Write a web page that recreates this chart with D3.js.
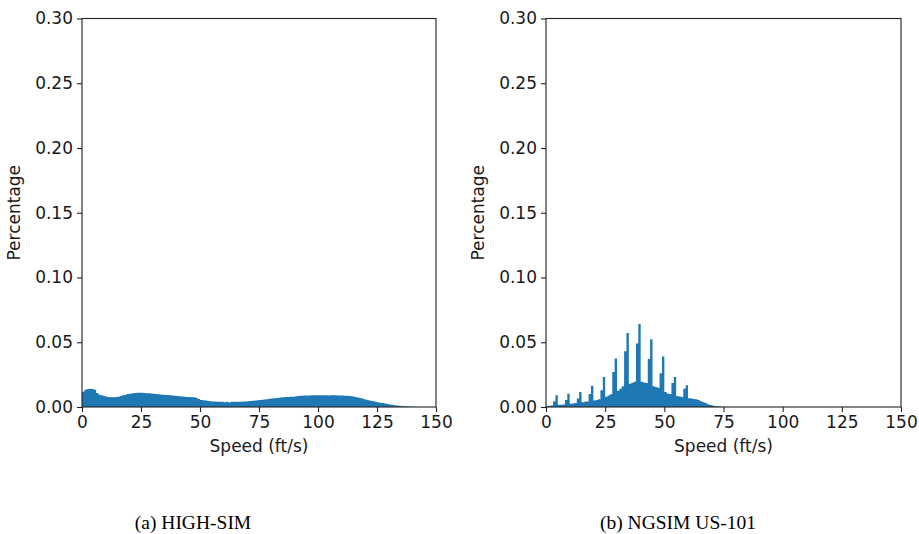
<!DOCTYPE html>
<html>
<head>
<meta charset="utf-8">
<script src="https://cdn.jsdelivr.net/npm/d3@7"></script>
<style>
  body { margin: 0; background: #fff; }
  svg { display: block; }
  .tick text { font-family: "DejaVu Sans", sans-serif; font-size: 17px; fill: #1a1a1a; }
</style>
</head>
<body>
<svg id="chart" width="919" height="534"></svg>
<script>
// ---- Data (1 ft/s bins starting at 0) ----
const highSimValues = [
  0.0118,0.0134,0.0139,0.0140,0.0139,0.0134,0.0108,0.0095,0.0090,0.0085,
  0.0080,0.0077,0.0075,0.0075,0.0077,0.0080,0.0085,0.0090,0.0095,0.0100,
  0.0103,0.0106,0.0108,0.0110,0.0110,0.0110,0.0108,0.0107,0.0106,0.0104,
  0.0103,0.0100,0.0098,0.0097,0.0095,0.0093,0.0092,0.0090,0.0088,0.0087,
  0.0085,0.0083,0.0082,0.0080,0.0078,0.0077,0.0076,0.0075,0.0072,0.0062,
  0.0055,0.0052,0.0050,0.0047,0.0045,0.0043,0.0042,0.0040,0.0040,0.0040,
  0.0036,0.0040,0.0035,0.0040,0.0040,0.0040,0.0040,0.0041,0.0042,0.0043,
  0.0045,0.0046,0.0048,0.0050,0.0052,0.0054,0.0056,0.0058,0.0060,0.0063,
  0.0066,0.0068,0.0070,0.0072,0.0073,0.0075,0.0077,0.0078,0.0079,0.0080,
  0.0082,0.0084,0.0086,0.0087,0.0088,0.0088,0.0089,0.0090,0.0090,0.0090,
  0.0091,0.0091,0.0090,0.0090,0.0089,0.0090,0.0091,0.0090,0.0089,0.0088,
  0.0088,0.0087,0.0086,0.0085,0.0083,0.0080,0.0076,0.0072,0.0068,0.0062,
  0.0056,0.0052,0.0048,0.0044,0.0040,0.0036,0.0033,0.0030,0.0027,0.0023,
  0.0020,0.0017,0.0014,0.0012,0.0010,0.0008,0.0006,0.0005,0.0004,0.0003,
  0.0001
];
const ngsimValues = [
  0.0008,0.0009,0.0012,0.0045,0.0090,0.0018,0.0018,0.0020,0.0055,0.0103,
  0.0025,0.0027,0.0030,0.0065,0.0116,0.0037,0.0040,0.0042,0.0100,0.0165,
  0.0050,0.0055,0.0060,0.0130,0.0232,0.0080,0.0088,0.0098,0.0270,0.0374,
  0.0125,0.0140,0.0160,0.0430,0.0572,0.0180,0.0188,0.0195,0.0490,0.0640,
  0.0195,0.0190,0.0185,0.0370,0.0524,0.0160,0.0155,0.0148,0.0260,0.0390,
  0.0115,0.0105,0.0100,0.0186,0.0232,0.0085,0.0082,0.0078,0.0140,0.0168,
  0.0068,0.0065,0.0062,0.0060,0.0055,0.0045,0.0038,0.0030,0.0022,0.0016,
  0.0012,0.0008,0.0005,0.0003,0.0001
];
const binWidth = 1;
const xTicks = [0, 25, 50, 75, 100, 125, 150];
const yTicks = [0.00, 0.05, 0.10, 0.15, 0.20, 0.25, 0.30];
const xLabel = "Speed (ft/s)";
const yLabel = "Percentage";
const captions = ["(a) HIGH-SIM", "(b) NGSIM US-101"];

const panels = [
  { values: highSimValues, left: 82, right: 436, caption: captions[0], capX: 193 },
  { values: ngsimValues, left: 546, right: 901, caption: captions[1], capX: 678 }
];
const plotTop = 18.5, plotBottom = 407;
const color = "#1f77b4";
const svg = d3.select("#chart");

panels.forEach(p => {
  const x = d3.scaleLinear().domain([0, 150]).range([p.left, p.right]);
  const y = d3.scaleLinear().domain([0, 0.30]).range([plotBottom, plotTop]);
  const g = svg.append("g");

  const pts = p.values.map((v, i) => ({ x0: i * binWidth, v }));
  pts.push({ x0: p.values.length * binWidth, v: 0 });
  const area = d3.area()
    .x(d => x(d.x0))
    .y0(y(0))
    .y1(d => y(d.v))
    .curve(d3.curveStepAfter);
  g.append("path").datum(pts).attr("d", area).attr("fill", color);

  const xAxis = d3.axisBottom(x).tickValues(xTicks).tickSize(5).tickPadding(4).tickFormat(d3.format("d"));
  const yAxis = d3.axisLeft(y).tickValues(yTicks).tickSize(5).tickPadding(4).tickFormat(d3.format(".2f"));
  const gx = g.append("g").attr("transform", `translate(0,${plotBottom})`).call(xAxis);
  const gy = g.append("g").attr("transform", `translate(${p.left},0)`).call(yAxis);
  [gx, gy].forEach(a => {
    a.select(".domain").remove();
    a.selectAll(".tick line").attr("stroke", "#222").attr("stroke-width", 1.1);
  });

  g.append("rect")
    .attr("x", p.left).attr("y", plotTop)
    .attr("width", p.right - p.left).attr("height", plotBottom - plotTop)
    .attr("fill", "none").attr("stroke", "#222").attr("stroke-width", 1.1);

  g.append("text")
    .attr("x", (p.left + p.right) / 2).attr("y", 452)
    .attr("text-anchor", "middle")
    .style("font-family", "DejaVu Sans, sans-serif").style("font-size", "17px")
    .style("fill", "#1a1a1a")
    .text(xLabel);
  g.append("text")
    .attr("transform", `translate(${p.left - 62},${(plotTop + plotBottom) / 2}) rotate(-90)`)
    .attr("text-anchor", "middle")
    .style("font-family", "DejaVu Sans, sans-serif").style("font-size", "17px")
    .style("fill", "#1a1a1a")
    .text(yLabel);
  g.append("text")
    .attr("x", p.capX).attr("y", 529)
    .attr("text-anchor", "middle")
    .style("font-family", "Liberation Serif, serif").style("font-size", "19.5px")
    .text(p.caption);
});
</script>
</body>
</html>
